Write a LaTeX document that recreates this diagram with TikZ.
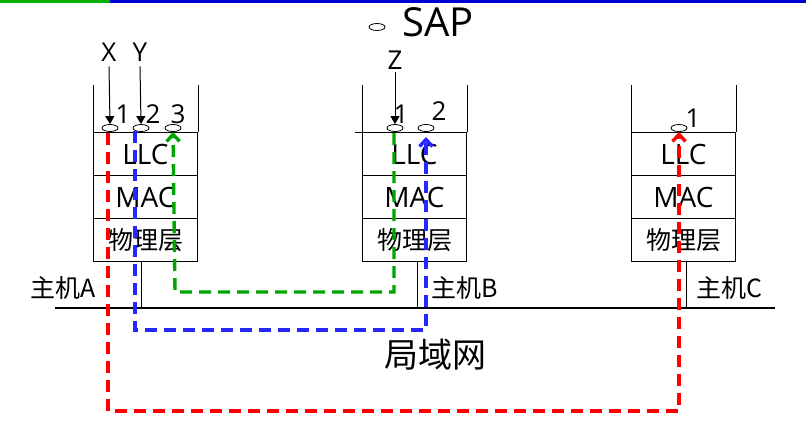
\documentclass[tikz,border=0pt]{standalone}
\usepackage{fontspec}
\setmainfont{Open Sans}
\newfontfamily\cjk{Noto Sans CJK SC}
\usetikzlibrary{arrows.meta,shapes.geometric}
\begin{document}
\begin{tikzpicture}[x=1pt,y=-1pt,
  lay/.style={draw,line width=1pt,minimum width=104pt,minimum height=43pt,inner sep=0pt,font=\fontsize{28}{28}\selectfont},
  sap/.style={draw,ellipse,line width=0.8pt,minimum width=16pt,minimum height=7pt,inner sep=0pt},
  lbl/.style={font=\fontsize{26}{26}\selectfont,inner sep=0pt},
  ch/.style={font=\cjk\fontsize{25}{25}\selectfont,inner sep=0pt},
  path/.style={line width=3.4pt,dash pattern=on 12pt off 7pt,-{Straight Barb[length=7pt,width=13pt]}},
  thin/.style={line width=1pt}]
\useasboundingbox (0,0) rectangle (806,426);
\draw[green!70!black,line width=3.5pt] (0,1) -- (110,1);
\draw[blue!80!black,line width=3.5pt] (110,1) -- (806,1);
% SAP legend
\node[sap] (legend) at (377,27) {};
\node[font=\fontsize{40}{40}\selectfont,inner sep=0pt,anchor=west] (saptxt) at (402,22) {SAP};
% hosts
\foreach \h/\x in {A/93,B/362,C/631}{
  \node[lay,anchor=north west] (llc\h) at (\x,132) {LLC};
  \node[lay,anchor=north west] (mac\h) at (\x,175) {MAC};
  \node[lay,anchor=north west,ch] (phy\h) at (\x,218) {物理层};
  \draw[thin] (llc\h.north west) -- ++(0,-47);
  \draw[thin] (llc\h.north east) -- ++(0,-47);
}
\draw[thin] (355,132) -- (460,132);
% stems and LAN
\coordinate (sA) at (141,261); \coordinate (sB) at (417,261); \coordinate (sC) at (686,261);
\coordinate (lA) at (141,308); \coordinate (lB) at (417,308); \coordinate (lC) at (686,308);
\draw[thin] (sA) -- (lA); \draw[thin] (sB) -- (lB); \draw[thin] (sC) -- (lC);
\coordinate (lanL) at (55,308); \coordinate (lanR) at (775,308);
\draw[line width=2.6pt] (lanL) -- (lanR);
\node[ch] (hA) at (63,288) {主机A};
\node[ch] (hB) at (465,288) {主机B};
\node[ch] (hC) at (729,288) {主机C};
\node[font=\cjk\fontsize{34}{34}\selectfont,inner sep=0pt] (lan) at (435,355) {局域网};
% SAPs
\node[sap] (a1) at (110,128) {};
\node[sap] (a2) at (141,128) {};
\node[sap] (a3) at (173,128) {};
\node[sap] (b1) at (395,128) {};
\node[sap] (b2) at (426,128) {};
\node[sap] (c1) at (679,128) {};
\node[lbl] at (123,114) {1};
\node[lbl] at (153,114) {2};
\node[lbl] at (178,114) {3};
\node[lbl] at (401,114) {1};
\node[lbl] at (439,111) {2};
\node[lbl] at (693,118) {1};
\node[lbl] (X) at (109,52) {X};
\node[lbl] (Y) at (140,52) {Y};
\node[lbl] (Z) at (395,60) {Z};
\draw[thin,-{Triangle[length=8pt,width=9pt]}] (X.south) ++(0,5) -- (a1.north);
\draw[thin,-{Triangle[length=8pt,width=9pt]}] (Y.south) ++(0,5) -- (a2.north);
\draw[thin,-{Triangle[length=8pt,width=9pt]}] (Z.south) ++(0,3) -- (b1.north);
% connections
\draw[path,red] (108,133) -- (108,411) -- (679,411) -- (c1.south);
\draw[path,blue!85!white] (135,131) -- (135,330) -- (426,330) -- (426,137);
\draw[path,green!65!black] (394,133) -- (394,292) -- (175,292) -- (a3.south);
\end{tikzpicture}
\end{document}
